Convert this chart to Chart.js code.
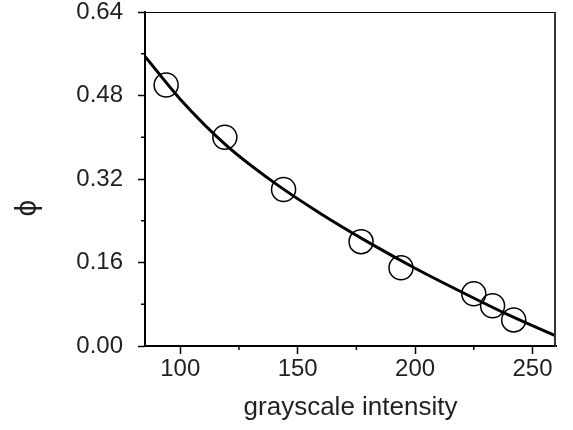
<!DOCTYPE html>
<html lang="en">
  <head>
    <meta charset="UTF-8" />
    <title>phi vs grayscale intensity</title>
    <style>
      body {
        margin: 0;
        background: #fff;
      }
      #chart {
        display: block;
      }
    </style>
  </head>
  <body>
    <canvas id="chart" width="573" height="430"></canvas>
    <script src="https://cdn.jsdelivr.net/npm/chart.js"></script>
    <script>
      // measured points (circles)
      const pointX = [94, 119, 144, 177, 194, 225, 233, 242];
      const pointY = [0.5, 0.4, 0.3, 0.2, 0.15, 0.1, 0.077, 0.05];

      // fitted curve
      const fitX = [85, 100, 120, 140, 160, 180, 200, 220, 240, 260];
      const fitY = [0.555, 0.473, 0.383, 0.313, 0.253, 0.199, 0.149, 0.103, 0.059, 0.019];

      const xTicks = [100, 150, 200, 250];
      const xMinorTicks = [125, 175, 225];
      const yTicks = [0, 0.16, 0.32, 0.48, 0.64];
      const yMinorTicks = [0.08, 0.24, 0.4, 0.56];

      const xTitle = "grayscale intensity";
      const yTitle = "ϕ";

      const textColor = "#231f20";
      const fontFamily = "'Liberation Sans', Arial, Helvetica, sans-serif";

      // top/right frame, minor ticks and the y label
      const framePlugin = {
        id: "frame",
        afterDraw(chart) {
          const { ctx, chartArea, scales } = chart;
          const { left, right, top, bottom } = chartArea;
          ctx.save();
          ctx.strokeStyle = "#000";
          ctx.lineWidth = 1;
          ctx.beginPath();
          ctx.moveTo(left, top + 0.5);
          ctx.lineTo(right, top + 0.5);
          ctx.stroke();
          ctx.strokeStyle = "#333";
          ctx.lineWidth = 2;
          ctx.beginPath();
          ctx.moveTo(right - 1, top);
          ctx.lineTo(right - 1, bottom);
          ctx.stroke();

          ctx.strokeStyle = "#000";
          ctx.lineWidth = 1.5;
          yMinorTicks.forEach((v) => {
            const py = scales.y.getPixelForValue(v);
            ctx.beginPath();
            ctx.moveTo(left - 4, py);
            ctx.lineTo(left, py);
            ctx.stroke();
          });
          xMinorTicks.forEach((v) => {
            const px = scales.x.getPixelForValue(v);
            ctx.beginPath();
            ctx.moveTo(px, bottom);
            ctx.lineTo(px, bottom + 4);
            ctx.stroke();
          });

          ctx.translate(28, 208);
          ctx.rotate(-Math.PI / 2);
          ctx.fillStyle = textColor;
          ctx.font = "30px " + fontFamily;
          ctx.textAlign = "center";
          ctx.textBaseline = "middle";
          ctx.fillText(yTitle, 0, 0);
          ctx.restore();
        },
      };

      new Chart(document.getElementById("chart"), {
        type: "scatter",
        data: {
          datasets: [
            {
              label: "fit",
              data: fitX.map((x, i) => ({ x: x, y: fitY[i] })),
              showLine: true,
              borderColor: "#000",
              borderWidth: 3,
              pointRadius: 0,
              cubicInterpolationMode: "monotone",
            },
            {
              label: "data",
              data: pointX.map((x, i) => ({ x: x, y: pointY[i] })),
              pointRadius: 12,
              pointBorderWidth: 1.5,
              pointBorderColor: "#000",
              pointBackgroundColor: "rgba(0,0,0,0)",
            },
          ],
        },
        options: {
          responsive: false,
          animation: false,
          layout: {
            autoPadding: false,
            padding: { left: 0, right: 17, top: 0, bottom: 0 },
          },
          plugins: {
            legend: { display: false },
            tooltip: { enabled: false },
          },
          scales: {
            x: {
              type: "linear",
              min: 85,
              max: 260,
              afterBuildTicks: (scale) => {
                scale.ticks = xTicks.map((v) => ({ value: v }));
              },
              afterFit: (scale) => {
                scale.height = 84;
              },
              border: { color: "#000", width: 2 },
              grid: {
                drawOnChartArea: false,
                tickLength: 8,
                tickWidth: 1.5,
                tickColor: "#000",
              },
              ticks: {
                color: textColor,
                padding: 3,
                maxRotation: 0,
                font: { family: fontFamily, size: 24, lineHeight: 1 },
              },
              title: {
                display: true,
                text: xTitle,
                color: textColor,
                padding: { top: 0, bottom: 7 },
                font: { family: fontFamily, size: 26, lineHeight: 1.2 },
              },
            },
            y: {
              type: "linear",
              min: 0,
              max: 0.64,
              afterBuildTicks: (scale) => {
                scale.ticks = yTicks.map((v) => ({ value: v }));
              },
              afterFit: (scale) => {
                scale.width = 145;
                scale.paddingTop = 12;
                scale.paddingBottom = 0;
              },
              border: { color: "#000", width: 2 },
              grid: {
                drawOnChartArea: false,
                tickLength: 7,
                tickWidth: 1.5,
                tickColor: "#000",
              },
              ticks: {
                color: textColor,
                padding: 15,
                font: { family: fontFamily, size: 24, lineHeight: 1 },
                callback: (v) => Number(v).toFixed(2),
              },
            },
          },
        },
        plugins: [framePlugin],
      });
    </script>
  </body>
</html>
